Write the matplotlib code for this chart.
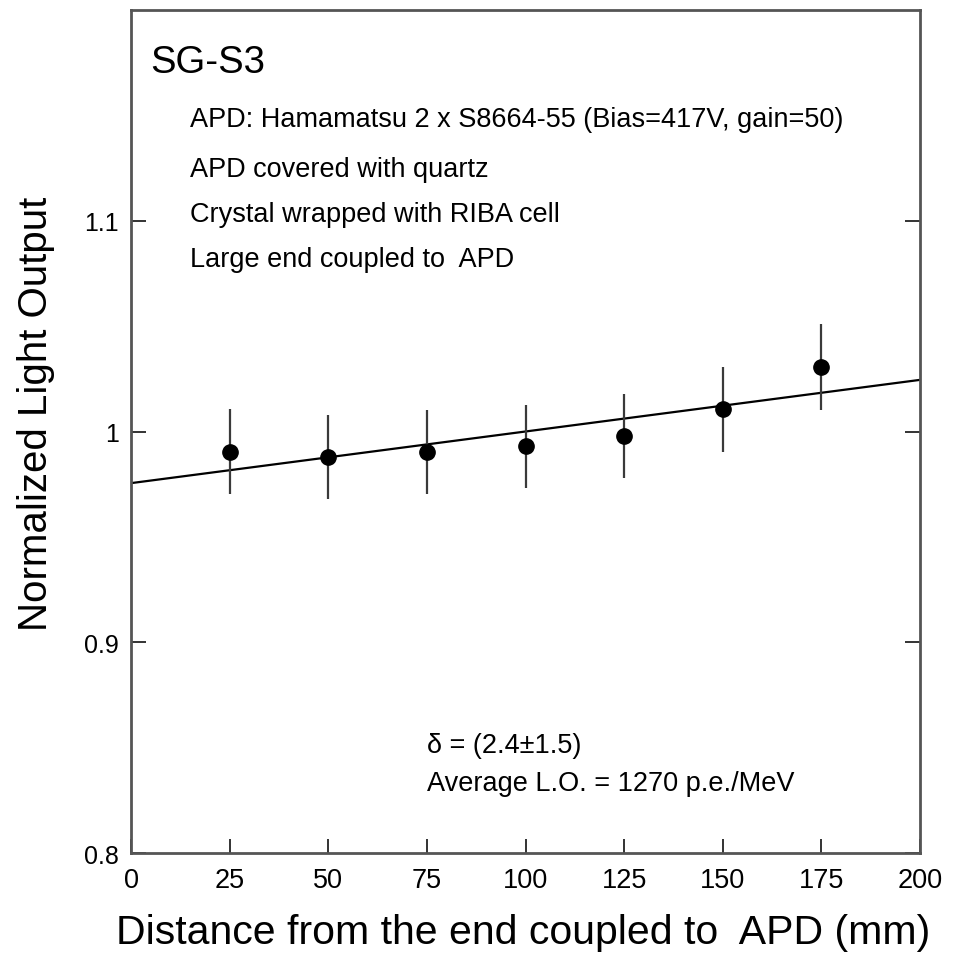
import matplotlib.pyplot as plt
import numpy as np

plt.rcParams['font.family'] = ['Liberation Sans', 'DejaVu Sans']

# measured points
distance = [25, 50, 75, 100, 125, 150, 175]
light_output = [0.9904, 0.9877, 0.9902, 0.9930, 0.9978, 1.0105, 1.0306]
light_err = [0.0202, 0.0199, 0.0200, 0.0198, 0.0200, 0.0203, 0.0206]

# linear fit drawn across the full range
fit_intercept = 0.9755
fit_slope = 0.000245
fit_x = [0, 200]

xticks = [0, 25, 50, 75, 100, 125, 150, 175, 200]
yticks = [0.8, 0.9, 1.0, 1.1]
yticklabels = ['0.8', '0.9', '1', '1.1']

info_lines = ['APD: Hamamatsu 2 x S8664-55 (Bias=417V, gain=50)',
              'APD covered with quartz',
              'Crystal wrapped with RIBA cell',
              'Large end coupled to  APD']


def main():
    fig = plt.figure(figsize=(9.55, 9.54), dpi=100)
    ax = fig.add_axes([131 / 955, 100 / 954, 789 / 955, 843 / 954])

    fx = np.array(fit_x)
    ax.plot(fx, fit_intercept + fit_slope * fx, color='black', lw=1.6, zorder=2)
    ax.errorbar(distance, light_output, yerr=light_err, fmt='o', color='black',
                ecolor='#3a3a3a', elinewidth=1.6, capsize=0, markersize=11, zorder=3)

    ax.set_xlim(0, 200)
    ax.set_ylim(0.8, 1.2)
    ax.set_xticks(xticks)
    ax.set_xticklabels([str(t) for t in xticks])
    ax.set_yticks(yticks)
    ax.set_yticklabels(yticklabels)

    ax.tick_params(axis='x', direction='in', length=10, width=1.4, labelsize=19.5,
                   pad=10, color='#333333')
    ax.tick_params(axis='y', direction='in', length=11, width=1.4, labelsize=18,
                   pad=9, right=True, color='#333333')
    for sp in ax.spines.values():
        sp.set_color('#555555')
        sp.set_linewidth(2)

    ax.text(4.8, 1.1707, 'SG-S3', fontsize=27.5, va='baseline', ha='left')
    ys = [1.1451, 1.1214, 1.1000, 1.0787]
    for line, y in zip(info_lines, ys):
        ax.text(15, y, line, fontsize=19.5, va='baseline', ha='left')

    ax.text(75, 0.8479, 'δ = (2.4±1.5)', fontsize=19.5, va='baseline', ha='left')
    ax.text(75, 0.8299, 'Average L.O. = 1270 p.e./MeV', fontsize=19.5,
            va='baseline', ha='left')

    ax.text(0.4975, -0.1068, 'Distance from the end coupled to  APD (mm)',
            transform=ax.transAxes, fontsize=29.5, ha='center', va='baseline')
    ax.text(-0.12, 0.5225, 'Normalized Light Output', transform=ax.transAxes,
            fontsize=29, ha='center', va='center', rotation=90)

    fig.savefig('out.png', dpi=100)


if __name__ == '__main__':
    main()
